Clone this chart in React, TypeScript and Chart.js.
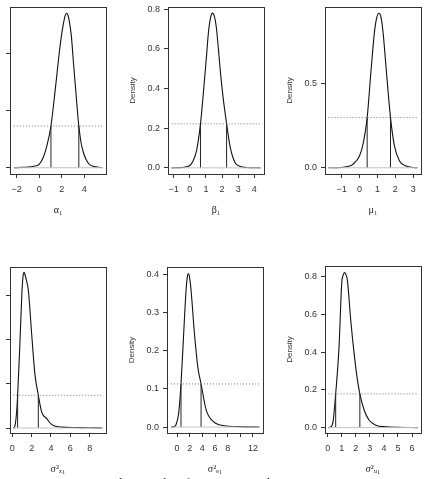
import React, { useEffect, useRef } from "react";
import { Chart, registerables } from "chart.js";

Chart.register(...registerables);

// ---------- data ----------
const alphaX = [-2.25, -1.5, -1.0, -0.5, 0.0, 0.4, 0.7, 1.04, 1.3, 1.55, 1.8, 2.0, 2.15, 2.3, 2.42, 2.55, 2.7, 2.85, 3.05, 3.3, 3.51, 3.7, 3.9, 4.2, 4.5, 5.0, 5.6];
const alphaY = [0.0, 0.001, 0.002, 0.005, 0.012, 0.04, 0.08, 0.146, 0.23, 0.32, 0.41, 0.47, 0.505, 0.532, 0.54, 0.533, 0.505, 0.46, 0.36, 0.24, 0.146, 0.09, 0.055, 0.025, 0.01, 0.003, 0.0];

const betaX = [-1.13, -0.6, -0.38, 0.0, 0.2, 0.41, 0.66, 0.82, 1.03, 1.15, 1.28, 1.4, 1.52, 1.64, 1.76, 1.9, 2.07, 2.28, 2.49, 2.8, 3.1, 3.5, 4.0, 4.38];
const betaY = [0.0, 0.001, 0.003, 0.012, 0.035, 0.084, 0.222, 0.36, 0.56, 0.68, 0.755, 0.78, 0.765, 0.71, 0.61, 0.48, 0.35, 0.222, 0.11, 0.027, 0.008, 0.002, 0.0005, 0.0];

const muX = [-1.72, -1.0, -0.55, -0.37, 0.0, 0.22, 0.43, 0.64, 0.83, 0.96, 1.08, 1.2, 1.32, 1.48, 1.73, 1.95, 2.23, 2.6, 3.0, 3.23];
const muY = [0.0, 0.002, 0.01, 0.02, 0.07, 0.15, 0.298, 0.57, 0.8, 0.89, 0.918, 0.895, 0.8, 0.6, 0.298, 0.13, 0.04, 0.01, 0.002, 0.0];

const sigXX = [0.1, 0.27, 0.42, 0.55, 0.8, 1.0, 1.12, 1.21, 1.32, 1.45, 1.66, 2.0, 2.33, 2.69, 3.04, 3.56, 4.08, 5.1, 6.5, 8.0, 9.3];
const sigXY = [0.0, 0.005, 0.03, 0.074, 0.2, 0.31, 0.345, 0.352, 0.346, 0.335, 0.311, 0.213, 0.123, 0.074, 0.036, 0.021, 0.0077, 0.002, 0.001, 0.0005, 0.0];

const sigEX = [-0.95, -0.5, -0.16, 0.27, 0.63, 1.0, 1.43, 1.65, 1.8, 1.95, 2.22, 2.75, 3.28, 3.8, 4.6, 5.7, 7.3, 10.0, 13.0];
const sigEY = [0.0, 0.001, 0.006, 0.037, 0.113, 0.228, 0.359, 0.396, 0.403, 0.396, 0.359, 0.246, 0.158, 0.113, 0.045, 0.015, 0.004, 0.001, 0.0];

const sigUX = [0.06, 0.21, 0.38, 0.57, 0.81, 1.0, 1.1, 1.21, 1.3, 1.4, 1.64, 1.88, 2.12, 2.29, 2.6, 2.95, 3.43, 4.14, 5.0, 6.39];
const sigUY = [0.0, 0.003, 0.03, 0.179, 0.43, 0.766, 0.81, 0.823, 0.812, 0.784, 0.571, 0.394, 0.252, 0.179, 0.092, 0.039, 0.013, 0.004, 0.001, 0.0];

// HPD intervals: [lower, upper, density level]
const alphaHpd = [1.04, 3.51, 0.146];
const betaHpd = [0.66, 2.28, 0.222];
const muHpd = [0.43, 1.73, 0.298];
const sigXHpd = [0.55, 2.69, 0.074];
const sigEHpd = [0.63, 3.8, 0.113];
const sigUHpd = [0.57, 2.29, 0.179];

// tick values and labels
const alphaXTicks = [-2, 0, 2, 4];
const alphaXLabels = ["−2", "0", "2", "4"];
const alphaYTicks = [0, 0.2, 0.4];
const alphaYLabels = ["0.0", "0.2", "0.4"];

const betaXTicks = [-1, 0, 1, 2, 3, 4];
const betaXLabels = ["−1", "0", "1", "2", "3", "4"];
const betaYTicks = [0, 0.2, 0.4, 0.6, 0.8];
const betaYLabels = ["0.0", "0.2", "0.4", "0.6", "0.8"];

const muXTicks = [-1, 0, 1, 2, 3];
const muXLabels = ["−1", "0", "1", "2", "3"];
const muYTicks = [0, 0.5];
const muYLabels = ["0.0", "0.5"];

const sigXXTicks = [0, 2, 4, 6, 8];
const sigXXLabels = ["0", "2", "4", "6", "8"];
const sigXYTicks = [0, 0.1, 0.2, 0.3];
const sigXYLabels = ["0.0", "0.1", "0.2", "0.3"];

const sigEXTicks = [0, 2, 4, 6, 8, 10, 12];
const sigEXLabels = ["0", "2", "4", "6", "8", "", "12"];
const sigEYTicks = [0, 0.1, 0.2, 0.3, 0.4];
const sigEYLabels = ["0.0", "0.1", "0.2", "0.3", "0.4"];

const sigUXTicks = [0, 1, 2, 3, 4, 5, 6];
const sigUXLabels = ["0", "1", "2", "3", "4", "5", "6"];
const sigUYTicks = [0, 0.2, 0.4, 0.6, 0.8];
const sigUYLabels = ["0.0", "0.2", "0.4", "0.6", "0.8"];

const titles = ["α₁", "β₁", "μ₁", "σ²ₓ₁", "σ²ₑ₁", "σ²ᵤ₁"];

// ---------- layout ----------
const Y_AXIS_W = 44;
const X_AXIS_H = 45;
const PAD = 8;

type Panel = {
  xs: number[];
  ys: number[];
  hpd: number[];
  xTicks: number[];
  xLabels: string[];
  yTicks: number[];
  yLabels: string[];
  xRange: [number, number];
  yRange: [number, number];
  title: string;
  showY: boolean;
  left: number;
  top: number;
  w: number;
  h: number;
};

const panels: Panel[] = [
  { xs: alphaX, ys: alphaY, hpd: alphaHpd, xTicks: alphaXTicks, xLabels: alphaXLabels, yTicks: alphaYTicks, yLabels: alphaYLabels, xRange: [-2.59, 5.92], yRange: [-0.022, 0.562], title: titles[0], showY: false, left: 10, top: 7, w: 96, h: 167 },
  { xs: betaX, ys: betaY, hpd: betaHpd, xTicks: betaXTicks, xLabels: betaXLabels, yTicks: betaYTicks, yLabels: betaYLabels, xRange: [-1.355, 4.6], yRange: [-0.031, 0.811], title: titles[1], showY: true, left: 168, top: 7, w: 96, h: 167 },
  { xs: muX, ys: muY, hpd: muHpd, xTicks: muXTicks, xLabels: muXLabels, yTicks: muYTicks, yLabels: muYLabels, xRange: [-1.92, 3.43], yRange: [-0.037, 0.955], title: titles[2], showY: true, left: 325, top: 7, w: 96, h: 167 },
  { xs: sigXX, ys: sigXY, hpd: sigXHpd, xTicks: sigXXTicks, xLabels: sigXXLabels, yTicks: sigXYTicks, yLabels: sigXYLabels, xRange: [-0.24, 9.69], yRange: [-0.0113, 0.364], title: titles[3], showY: false, left: 10, top: 267, w: 96, h: 166 },
  { xs: sigEX, ys: sigEY, hpd: sigEHpd, xTicks: sigEXTicks, xLabels: sigEXLabels, yTicks: sigEYTicks, yLabels: sigEYLabels, xRange: [-1.58, 13.58], yRange: [-0.0157, 0.42], title: titles[4], showY: true, left: 167, top: 267, w: 96, h: 166 },
  { xs: sigUX, ys: sigUY, hpd: sigUHpd, xTicks: sigUXTicks, xLabels: sigUXLabels, yTicks: sigUYTicks, yLabels: sigUYLabels, xRange: [-0.19, 6.64], yRange: [-0.0287, 0.858], title: titles[5], showY: true, left: 325, top: 266, w: 96, h: 167 },
];

const boxPlugin = {
  id: "rbox",
  afterDraw(chart: any) {
    const { ctx, chartArea: a } = chart;
    ctx.save();
    ctx.strokeStyle = "#333";
    ctx.lineWidth = 1;
    ctx.strokeRect(Math.round(a.left) + 0.5, Math.round(a.top) + 0.5, Math.round(a.right - a.left), Math.round(a.bottom - a.top));
    ctx.restore();
  },
};

function DensityPanel({ p }: { p: Panel }) {
  const ref = useRef<HTMLCanvasElement | null>(null);
  const w = Y_AXIS_W + p.w + PAD;
  const h = PAD + p.h + X_AXIS_H;

  useEffect(() => {
    if (!ref.current) return;
    const xMin = p.xs[0];
    const xMax = p.xs[p.xs.length - 1];
    const [lo, hi, level] = p.hpd;
    const seg = (pts: { x: number; y: number }[], color: string, dash: number[] = []) => ({
      data: pts,
      borderColor: color,
      borderWidth: 1,
      borderDash: dash,
      pointRadius: 0,
      fill: false,
      tension: 0,
    });
    const curve = {
      data: p.xs.map((x, i) => ({ x, y: p.ys[i] })),
      borderColor: "#111",
      borderWidth: 1.1,
      pointRadius: 0,
      fill: false,
      cubicInterpolationMode: "monotone" as const,
    };
    const chart = new Chart(ref.current, {
      type: "line",
      data: {
        datasets: [
          seg([{ x: xMin, y: 0 }, { x: xMax, y: 0 }], "#c4c4c4"),
          seg([{ x: xMin, y: level }, { x: xMax, y: level }], "#777", [1, 2]),
          seg([{ x: lo, y: 0 }, { x: lo, y: level }], "#222"),
          seg([{ x: hi, y: 0 }, { x: hi, y: level }], "#222"),
          curve as any,
        ],
      },
      options: {
        animation: false,
        responsive: false,
        events: [],
        layout: { padding: { left: 0, top: PAD, right: PAD, bottom: 0 } },
        plugins: { legend: { display: false }, tooltip: { enabled: false } },
        scales: {
          x: {
            type: "linear",
            min: p.xRange[0],
            max: p.xRange[1],
            afterBuildTicks: (s: any) => {
              s.ticks = p.xTicks.map((v) => ({ value: v }));
            },
            afterFit: (s: any) => {
              s.height = X_AXIS_H;
              s.paddingLeft = 0;
              s.paddingRight = 0;
              s.paddingTop = 0;
              s.paddingBottom = 0;
            },
            border: { display: false },
            grid: { display: true, drawOnChartArea: false, drawTicks: true, tickLength: 4, tickColor: "#333", lineWidth: 1 },
            ticks: {
              autoSkip: false,
              maxRotation: 0,
              minRotation: 0,
              padding: 6,
              color: "#333",
              font: { family: "'Liberation Sans', Arial, sans-serif", size: 9 },
              callback: (_v: any, i: number) => p.xLabels[i],
            },
            title: {
              display: true,
              text: p.title,
              color: "#222",
              font: { family: "'Liberation Serif', 'DejaVu Serif', serif", size: 10 },
              padding: { top: 0, bottom: 3 },
            },
          },
          y: {
            type: "linear",
            min: p.yRange[0],
            max: p.yRange[1],
            afterBuildTicks: (s: any) => {
              s.ticks = p.yTicks.map((v) => ({ value: v }));
            },
            afterFit: (s: any) => {
              s.width = Y_AXIS_W;
              s.paddingLeft = 0;
              s.paddingRight = 0;
              s.paddingTop = 0;
              s.paddingBottom = 0;
            },
            border: { display: false },
            grid: { display: true, drawOnChartArea: false, drawTicks: true, tickLength: 4, tickColor: "#333", lineWidth: 1 },
            ticks: {
              display: p.showY,
              autoSkip: false,
              padding: 4,
              color: "#333",
              font: { family: "'Liberation Sans', Arial, sans-serif", size: 9 },
              callback: (_v: any, i: number) => p.yLabels[i],
            },
            title: {
              display: p.showY,
              text: "Density",
              color: "#333",
              font: { family: "'Liberation Sans', Arial, sans-serif", size: 8 },
              padding: { top: 4, bottom: 0 },
            },
          },
        },
      },
      plugins: [boxPlugin],
    });
    return () => chart.destroy();
  }, [p]);

  return (
    <div style={{ position: "absolute", left: p.left - Y_AXIS_W, top: p.top - PAD, width: w, height: h }}>
      <canvas ref={ref} width={w} height={h} style={{ width: w, height: h, display: "block" }} />
    </div>
  );
}

export default function App() {
  return (
    <div style={{ position: "fixed", left: 0, top: 0, width: 429, height: 479, overflow: "hidden", background: "#fff" }}>
      {panels.map((p, i) => (
        <DensityPanel key={i} p={p} />
      ))}
      <div
        style={{
          position: "absolute",
          left: 36,
          top: 475,
          whiteSpace: "nowrap",
          fontFamily: "'Liberation Serif', 'DejaVu Serif', serif",
          fontSize: 13,
          color: "#222",
        }}
      >
        Figure 3: HPD density plots for σ²ₓ₁, σ²ₑ₁ and σ²ᵤ₁
      </div>
    </div>
  );
}
